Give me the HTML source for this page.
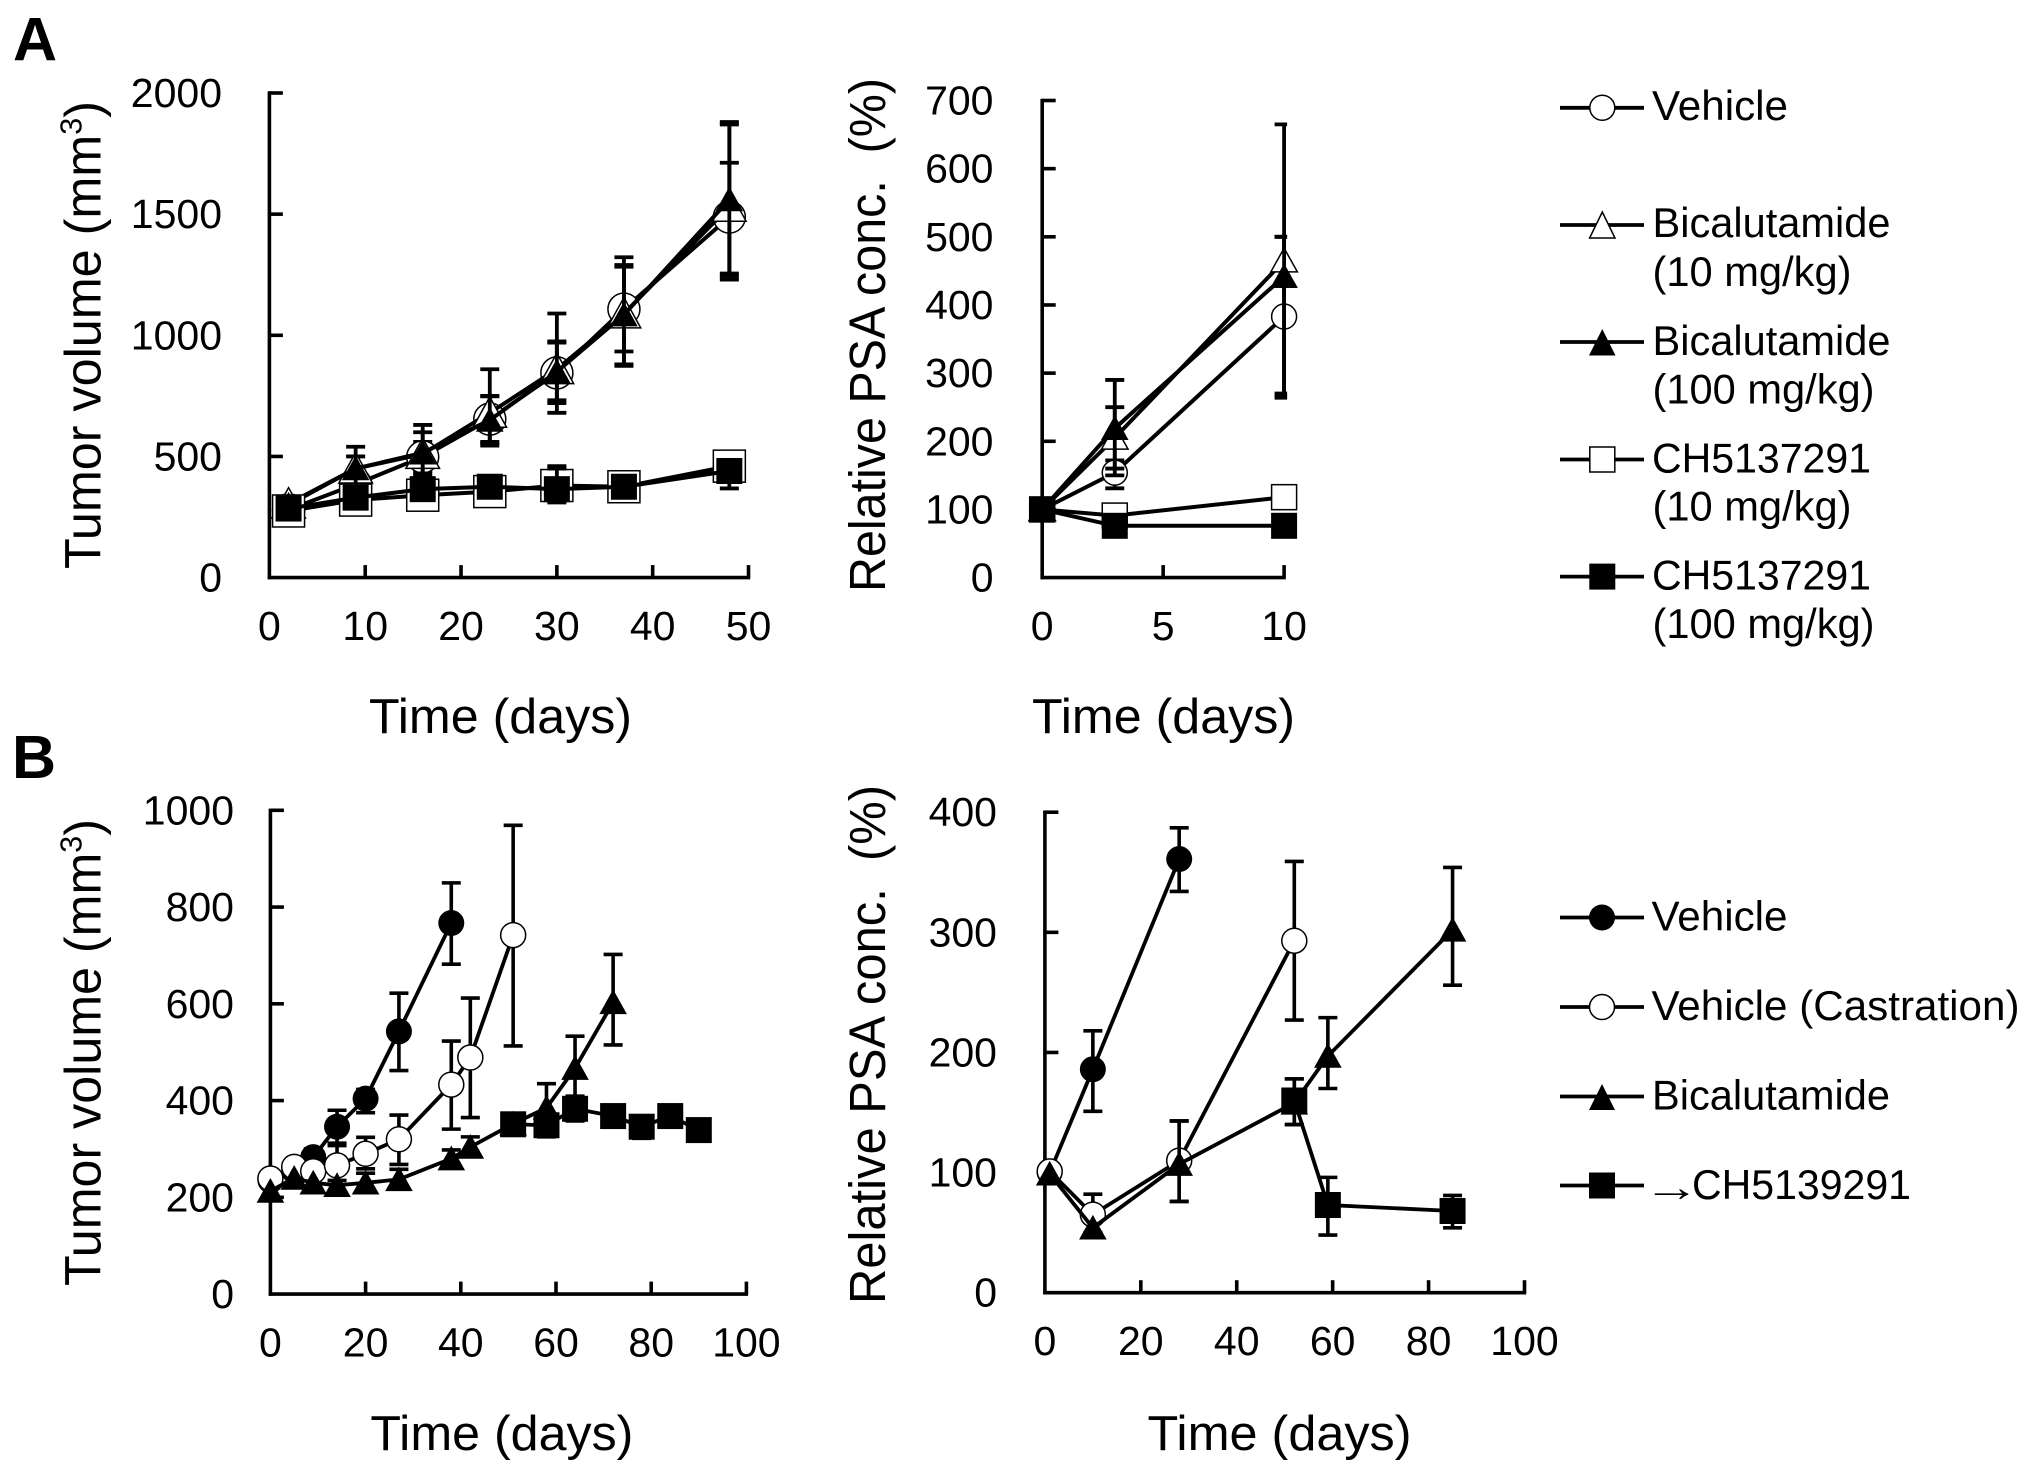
<!DOCTYPE html>
<html lang="en">
<head>
<meta charset="utf-8">
<title>Tumor volume and PSA concentration charts</title>
<style>
html,body{margin:0;padding:0;background:#fff;width:2031px;height:1475px;overflow:hidden}
svg{display:block}
text{font-family:"Liberation Sans",sans-serif;fill:#000;white-space:pre}
.t{font-size:41px}
.ttl{font-size:49px}
.ytl{font-size:51px}
.leg{font-size:42px}
.pl{font-size:61px;font-weight:bold}
</style>
</head>
<body>
<svg id="figure" xmlns="http://www.w3.org/2000/svg" width="2031" height="1475" viewBox="0 0 2031 1475">
<rect x="0" y="0" width="2031" height="1475" fill="#fff"/>
<text class="pl" x="13" y="60.5">A</text>
<text class="pl" x="12" y="778">B</text>

<text class="ytl" transform="translate(100.5 569) rotate(-90)" textLength="468" lengthAdjust="spacingAndGlyphs">Tumor volume (mm<tspan font-size="31" dy="-19">3</tspan><tspan dy="19">)</tspan></text>
<text class="ytl" transform="translate(885 592) rotate(-90)" textLength="514" lengthAdjust="spacingAndGlyphs">Relative PSA conc.  (%)</text>
<text class="ytl" transform="translate(100.5 1286) rotate(-90)" textLength="467" lengthAdjust="spacingAndGlyphs">Tumor volume (mm<tspan font-size="31" dy="-19">3</tspan><tspan dy="19">)</tspan></text>
<text class="ytl" transform="translate(885 1304) rotate(-90)" textLength="519" lengthAdjust="spacingAndGlyphs">Relative PSA conc.  (%)</text>

<text class="ttl" x="369" y="733" textLength="263" lengthAdjust="spacingAndGlyphs">Time (days)</text>
<text class="ttl" x="1032" y="733" textLength="263" lengthAdjust="spacingAndGlyphs">Time (days)</text>
<text class="ttl" x="370.4" y="1450" textLength="263" lengthAdjust="spacingAndGlyphs">Time (days)</text>
<text class="ttl" x="1147.5" y="1450" textLength="264" lengthAdjust="spacingAndGlyphs">Time (days)</text>

<g id="plots"></g>

<g stroke="#000" stroke-width="3.8">
  <g>
    <line x1="1560" y1="107.8" x2="1644" y2="107.8"/>
    <circle cx="1602.3" cy="107.8" r="12.5" fill="#fff" stroke-width="1.5"/>
    <text class="leg" x="1652" y="120" stroke="none" textLength="136" lengthAdjust="spacingAndGlyphs">Vehicle</text>
  </g>
  <g>
    <line x1="1560" y1="225" x2="1644" y2="225"/>
    <polygon points="1602.3,212 1615,238 1589.6,238" fill="#fff" stroke-width="1.5"/>
    <text class="leg" x="1652.5" y="237" stroke="none" textLength="238" lengthAdjust="spacingAndGlyphs">Bicalutamide</text>
    <text class="leg" x="1652.5" y="286" stroke="none" textLength="199" lengthAdjust="spacingAndGlyphs">(10 mg/kg)</text>
  </g>
  <g>
    <line x1="1560" y1="342" x2="1644" y2="342"/>
    <polygon points="1602.3,329 1615.5,355.5 1589,355.5" fill="#000" stroke="none"/>
    <text class="leg" x="1652.5" y="355" stroke="none" textLength="238" lengthAdjust="spacingAndGlyphs">Bicalutamide</text>
    <text class="leg" x="1652.5" y="403.5" stroke="none" textLength="222" lengthAdjust="spacingAndGlyphs">(100 mg/kg)</text>
  </g>
  <g>
    <line x1="1560" y1="459.5" x2="1644" y2="459.5"/>
    <rect x="1589.8" y="447" width="25" height="25" fill="#fff" stroke-width="1.5"/>
    <text class="leg" x="1652" y="472.5" stroke="none" textLength="219" lengthAdjust="spacingAndGlyphs">CH5137291</text>
    <text class="leg" x="1652.5" y="520.5" stroke="none" textLength="199" lengthAdjust="spacingAndGlyphs">(10 mg/kg)</text>
  </g>
  <g>
    <line x1="1560" y1="576.6" x2="1644" y2="576.6"/>
    <rect x="1589.3" y="563.6" width="26" height="26" fill="#000" stroke="none"/>
    <text class="leg" x="1652" y="589.5" stroke="none" textLength="219" lengthAdjust="spacingAndGlyphs">CH5137291</text>
    <text class="leg" x="1652.5" y="638" stroke="none" textLength="222" lengthAdjust="spacingAndGlyphs">(100 mg/kg)</text>
  </g>
</g>

<g stroke="#000" stroke-width="3.8">
  <g>
    <line x1="1560" y1="917.5" x2="1644" y2="917.5"/>
    <circle cx="1602" cy="917.5" r="13" fill="#000" stroke="none"/>
    <text class="leg" x="1651.5" y="930.5" stroke="none" textLength="136" lengthAdjust="spacingAndGlyphs">Vehicle</text>
  </g>
  <g>
    <line x1="1560" y1="1007" x2="1644" y2="1007"/>
    <circle cx="1602" cy="1007" r="12.5" fill="#fff" stroke-width="1.5"/>
    <text class="leg" x="1651.5" y="1020" stroke="none" textLength="368" lengthAdjust="spacingAndGlyphs">Vehicle (Castration)</text>
  </g>
  <g>
    <line x1="1560" y1="1096.5" x2="1644" y2="1096.5"/>
    <polygon points="1602,1084 1615,1110 1589,1110" fill="#000" stroke="none"/>
    <text class="leg" x="1652" y="1109.5" stroke="none" textLength="238" lengthAdjust="spacingAndGlyphs">Bicalutamide</text>
  </g>
  <g>
    <line x1="1560" y1="1185.5" x2="1644" y2="1185.5"/>
    <rect x="1589" y="1172.5" width="26" height="26" fill="#000" stroke="none"/>
    <text x="1643" y="1201" font-size="41" stroke="none" textLength="57" lengthAdjust="spacingAndGlyphs">→</text>
    <text class="leg" x="1692" y="1199" stroke="none" textLength="219" lengthAdjust="spacingAndGlyphs">CH5139291</text>
  </g>
</g>
</svg>
<script>
// Panel A, tumor volume
const a1XTicks = [0, 10, 20, 30, 40, 50];
const a1YTicks = [0, 500, 1000, 1500, 2000];
const a1Days = [2, 9, 16, 23, 30, 37, 48];
const a1Vehicle = [280, 385, 498, 654, 845, 1108, 1488];
const a1VehicleHi = [null, 430, 560, 748, 975, 1322, 1712];
const a1VehicleLo = [null, 340, 440, 555, 680, 874, 1230];
const a1BicaLow = [305, 450, 510, 680, 860, 1090, 1530];
const a1BicaLowHi = [null, 500, 600, 860, 1090, 1283, 1880];
const a1BicaLowLo = [null, 400, 430, 560, 732, 933, 1255];
const a1BicaHigh = [300, 450, 515, 650, 850, 1085, 1560];
const a1BicaHighHi = [null, 540, 630, 750, 970, 1290, 1870];
const a1BicaHighLo = [null, 380, 420, 545, 720, 880, 1245];
const a1ChLow = [275, 320, 340, 355, 380, 375, 460];
const a1ChLowHi = [null, null, null, null, 460, null, null];
const a1ChLowLo = [null, null, null, null, 320, null, null];
const a1ChHigh = [285, 330, 365, 375, 365, 375, 440];
const a1ChHighHi = [null, null, null, null, 450, null, null];
const a1ChHighLo = [null, null, null, null, 310, null, 368];

// Panel A, PSA
const a2XTicks = [0, 5, 10];
const a2YTicks = [0, 100, 200, 300, 400, 500, 600, 700];
const a2Days = [0, 3, 10];
const a2Vehicle = [100, 154, 383];
const a2VehicleHi = [null, 172, 500];
const a2VehicleLo = [null, 131, 267];
const a2BicaLow = [100, 205, 465];
const a2BicaLowHi = [null, 250, 665];
const a2BicaLowLo = [null, 160, 264];
const a2BicaHigh = [100, 219, 442];
const a2BicaHighHi = [null, 290, 500];
const a2BicaHighLo = [null, 150, 270];
const a2ChLow = [100, 91, 118];
const a2ChHigh = [100, 76, 76];

// Panel B, tumor volume
const b1XTicks = [0, 20, 40, 60, 80, 100];
const b1YTicks = [0, 200, 400, 600, 800, 1000];
const b1VehicleDays = [0, 5, 9, 14, 20, 27, 38];
const b1Vehicle = [235, 255, 283, 346, 404, 543, 767];
const b1VehicleHi = [null, null, 300, 380, 423, 622, 850];
const b1VehicleLo = [null, null, 262, 312, 375, 462, 682];
const b1CastDays = [0, 5, 9, 14, 20, 27, 38, 42, 51];
const b1Cast = [239, 263, 254, 266, 290, 320, 433, 489, 742];
const b1CastHi = [null, null, null, 307, 324, 370, 523, 612, 969];
const b1CastLo = [null, null, null, 235, 259, 268, 341, 365, 513];
const b1BicaDays = [0, 5, 9, 14, 20, 27, 38, 42, 51, 58, 64, 72];
const b1Bica = [213, 240, 230, 225, 230, 237, 280, 304, 352, 385, 467, 603];
const b1BicaHi = [null, null, null, null, 250, 258, 298, 325, null, 435, 533, 702];
const b1BicaLo = [null, null, null, null, null, null, null, null, null, 340, 409, 515];
const b1ChDays = [51, 58, 64, 72, 78, 84, 90];
const b1Ch = [351, 349, 383, 368, 346, 368, 339];
const b1ChHi = [null, 370, 408, 385, 368, 388, null];
const b1ChLo = [null, 325, 358, 350, 322, 348, null];

// Panel B, PSA
const b2XTicks = [0, 20, 40, 60, 80, 100];
const b2YTicks = [0, 100, 200, 300, 400];
const b2VehicleDays = [1, 10, 28];
const b2Vehicle = [100, 186, 361];
const b2VehicleHi = [null, 218, 387];
const b2VehicleLo = [null, 151, 334];
const b2CastDays = [1, 10, 28, 52];
const b2Cast = [101, 65, 110, 293];
const b2CastHi = [null, 82, 143, 359];
const b2CastLo = [null, 50, 76, 227];
const b2BicaDays = [1, 10, 28, 52, 59, 85];
const b2Bica = [99, 54, 107, 158, 197, 302];
const b2BicaHi = [null, null, 143, 178, 229, 354];
const b2BicaLo = [null, null, 76, 140, 170, 256];
const b2ChDays = [52, 59, 85];
const b2Ch = [160, 73, 68];
const b2ChHi = [178, 96, 81];
const b2ChLo = [140, 48, 54];

const SVGNS = 'http://www.w3.org/2000/svg';
const plots = document.getElementById('plots');

function make(parent, tag, attrs) {
  const el = document.createElementNS(SVGNS, tag);
  for (const k in attrs) el.setAttribute(k, attrs[k]);
  parent.appendChild(el);
  return el;
}

function drawMarker(g, shape, filled, px, py, openSize, fillSize) {
  const fill = filled ? '#000' : '#fff';
  const stroke = filled ? 'none' : '#000';
  const size = filled ? fillSize : openSize;
  const h = size / 2;
  let m;
  if (shape === 'circle') {
    m = make(g, 'circle', {cx: px, cy: py, r: h, fill: fill, stroke: stroke, 'stroke-width': 1.5});
  } else if (shape === 'square') {
    m = make(g, 'rect', {x: px - h, y: py - h, width: size, height: size, fill: fill, stroke: stroke, 'stroke-width': 1.5});
  } else {
    const w = h + 0.8;
    const pts = px + ',' + (py - h) + ' ' + (px + w) + ',' + (py + h * 0.9) + ' ' + (px - w) + ',' + (py + h * 0.9);
    m = make(g, 'polygon', {points: pts, fill: fill, stroke: stroke, 'stroke-width': 1.5});
  }
  
  
}

function drawPanel(p) {
  const root = make(plots, 'g', {});
  
  
  const sx = v => p.x0 + (v - p.xMin) / (p.xMax - p.xMin) * (p.x1 - p.x0);
  const sy = v => p.y0 + (v - p.yMin) / (p.yMax - p.yMin) * (p.y1 - p.y0);

  const axes = make(root, 'g', {stroke: '#000', 'stroke-width': p.axisW, fill: 'none'});
  
  
  make(axes, 'line', {x1: p.x0, y1: p.y1 - 1.7, x2: p.x0, y2: p.y0 + 1.7});
  make(axes, 'line', {x1: p.x0 - 1.7, y1: p.y0, x2: p.x1 + 1.7, y2: p.y0});

  p.xTicks.forEach(v => {
    const x = sx(v);
    if (v !== p.xMin) make(axes, 'line', {x1: x, y1: p.y0, x2: x, y2: p.y0 - 12.5});
    const t = make(root, 'text', {x: x, y: p.xLabelY, 'text-anchor': 'middle', class: 't'});
    
    
    t.textContent = v;
  });
  p.yTicks.forEach(v => {
    const y = sy(v);
    if (v !== p.yMin) make(axes, 'line', {x1: p.x0, y1: y, x2: p.x0 + 13.5, y2: y});
    const t = make(root, 'text', {x: p.yLabelX, y: y + p.yLabelDy, 'text-anchor': 'end', class: 't'});
    
    
    t.textContent = v;
  });

  p.series.forEach(s => {
    const g = make(root, 'g', {});
    
    
    s.values.forEach((v, i) => {
      const x = sx(s.x[i]);
      const ends = [s.hi ? s.hi[i] : null, s.lo ? s.lo[i] : null];
      ends.forEach(e => {
        if (e === null || e === undefined) return;
        const yE = sy(e);
        const bar = make(g, 'path', {
          d: 'M' + x + ' ' + sy(v) + 'V' + yE + 'M' + (x - 9.5) + ' ' + yE + 'H' + Math.min(x + 9.5, p.x1 + 3),
          stroke: '#000', 'stroke-width': p.errW, fill: 'none'
        });
        
        
      });
    });
    const pts = s.values.map((v, i) => sx(s.x[i]) + ',' + sy(v)).join(' ');
    const line = make(g, 'polyline', {points: pts, fill: 'none', stroke: '#000', 'stroke-width': p.lineW});
    
    
    s.values.forEach((v, i) => {
      drawMarker(g, s.shape, s.filled, sx(s.x[i]), sy(v), p.openSize, p.fillSize);
    });
  });
}

drawPanel({
  name: 'chart-a-tumor-volume', x0: 269.4, x1: 748.5, y0: 577.6, y1: 93, xMin: 0, xMax: 50, yMin: 0, yMax: 2000,
  xTicks: a1XTicks, yTicks: a1YTicks, xLabelY: 640, yLabelX: 222, yLabelDy: 14, axisW: 3.6, lineW: 4, errW: 3.8, openSize: 32, fillSize: 26,
  series: [
    {name: 'series-vehicle', shape: 'circle', filled: false, x: a1Days, values: a1Vehicle, hi: a1VehicleHi, lo: a1VehicleLo},
    {name: 'series-bicalutamide-10', shape: 'triangle', filled: false, x: a1Days, values: a1BicaLow, hi: a1BicaLowHi, lo: a1BicaLowLo},
    {name: 'series-bicalutamide-100', shape: 'triangle', filled: true, x: a1Days, values: a1BicaHigh, hi: a1BicaHighHi, lo: a1BicaHighLo},
    {name: 'series-ch5137291-10', shape: 'square', filled: false, x: a1Days, values: a1ChLow, hi: a1ChLowHi, lo: a1ChLowLo},
    {name: 'series-ch5137291-100', shape: 'square', filled: true, x: a1Days, values: a1ChHigh, hi: a1ChHighHi, lo: a1ChHighLo}
  ]
});

drawPanel({
  name: 'chart-a-psa', x0: 1042.2, x1: 1284.1, y0: 577.6, y1: 100.5, xMin: 0, xMax: 10, yMin: 0, yMax: 700,
  xTicks: a2XTicks, yTicks: a2YTicks, xLabelY: 640, yLabelX: 993.5, yLabelDy: 14, axisW: 3.6, lineW: 4, errW: 3.8, openSize: 25, fillSize: 26,
  series: [
    {name: 'series-vehicle', shape: 'circle', filled: false, x: a2Days, values: a2Vehicle, hi: a2VehicleHi, lo: a2VehicleLo},
    {name: 'series-bicalutamide-10', shape: 'triangle', filled: false, x: a2Days, values: a2BicaLow, hi: a2BicaLowHi, lo: a2BicaLowLo},
    {name: 'series-bicalutamide-100', shape: 'triangle', filled: true, x: a2Days, values: a2BicaHigh, hi: a2BicaHighHi, lo: a2BicaHighLo},
    {name: 'series-ch5137291-10', shape: 'square', filled: false, x: a2Days, values: a2ChLow},
    {name: 'series-ch5137291-100', shape: 'square', filled: true, x: a2Days, values: a2ChHigh}
  ]
});

drawPanel({
  name: 'chart-b-tumor-volume', x0: 270.4, x1: 746.4, y0: 1294.1, y1: 810.3, xMin: 0, xMax: 100, yMin: 0, yMax: 1000,
  xTicks: b1XTicks, yTicks: b1YTicks, xLabelY: 1356.5, yLabelX: 234, yLabelDy: 14, axisW: 3.6, lineW: 3.8, errW: 3.6, openSize: 25, fillSize: 26,
  series: [
    {name: 'series-vehicle', shape: 'circle', filled: true, x: b1VehicleDays, values: b1Vehicle, hi: b1VehicleHi, lo: b1VehicleLo},
    {name: 'series-vehicle-castration', shape: 'circle', filled: false, x: b1CastDays, values: b1Cast, hi: b1CastHi, lo: b1CastLo},
    {name: 'series-bicalutamide', shape: 'triangle', filled: true, x: b1BicaDays, values: b1Bica, hi: b1BicaHi, lo: b1BicaLo},
    {name: 'series-ch5139291', shape: 'square', filled: true, x: b1ChDays, values: b1Ch, hi: b1ChHi, lo: b1ChLo}
  ]
});

drawPanel({
  name: 'chart-b-psa', x0: 1044.9, x1: 1524.5, y0: 1292.7, y1: 812.2, xMin: 0, xMax: 100, yMin: 0, yMax: 400,
  xTicks: b2XTicks, yTicks: b2YTicks, xLabelY: 1355, yLabelX: 997, yLabelDy: 14, axisW: 3.6, lineW: 3.8, errW: 3.6, openSize: 25, fillSize: 26,
  series: [
    {name: 'series-vehicle', shape: 'circle', filled: true, x: b2VehicleDays, values: b2Vehicle, hi: b2VehicleHi, lo: b2VehicleLo},
    {name: 'series-vehicle-castration', shape: 'circle', filled: false, x: b2CastDays, values: b2Cast, hi: b2CastHi, lo: b2CastLo},
    {name: 'series-bicalutamide', shape: 'triangle', filled: true, x: b2BicaDays, values: b2Bica, hi: b2BicaHi, lo: b2BicaLo},
    {name: 'series-ch5139291', shape: 'square', filled: true, x: b2ChDays, values: b2Ch, hi: b2ChHi, lo: b2ChLo}
  ]
});
</script>
</body>
</html>
